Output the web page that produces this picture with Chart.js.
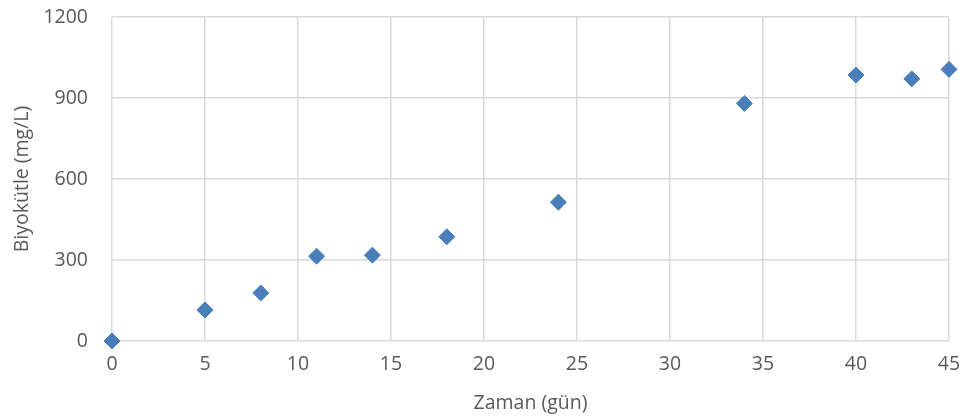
<!DOCTYPE html>
<html lang="tr">
<head>
    <meta charset="UTF-8">
    <title>Biyokütle</title>
    <script src="https://cdn.jsdelivr.net/npm/chart.js"></script>
    <style>
        body { margin: 0; background: #fff; }
        .chartBox { width: 968px; height: 417px; }
    </style>
</head>
<body>
    <div class="chartBox">
        <canvas id="biomass" width="968" height="417"></canvas>
    </div>

    <script>
    // okunan veriler
    const v_days = [0, 5, 8, 11, 14, 18, 24, 34, 40, 43, 45];
    const v_biomass = [0, 115, 178, 314, 318, 386, 514, 880, 985, 971, 1006];
    const v_xTitle = 'Zaman (gün)';
    const v_yTitle = 'Biyokütle (mg/L)';

    const v_points = v_days.map((d, i) => ({ x: d, y: v_biomass[i] }));

    const fontBase = { family: "'Open Sans', 'Liberation Sans', sans-serif", size: 19.5 };
    const gridColor = '#d9d9d9';
    const textColor = '#595959';

    const ctx = document.getElementById('biomass');

    new Chart(ctx, {
        type: 'scatter',
        data: {
            datasets: [{
                label: 'Biyokütle',
                data: v_points,
                clip: false,
                pointStyle: 'rectRot',
                pointRadius: 8,
                pointBackgroundColor: '#4a7ebb',
                pointBorderColor: '#4a7ebb',
                pointBorderWidth: 1
            }]
        },
        options: {
            responsive: false,
            animation: false,
            layout: { autoPadding: false, padding: { top: 17, right: 19, left: 0, bottom: 0 } },
            plugins: {
                legend: { display: false },
                tooltip: { enabled: false }
            },
            scales: {
                x: {
                    type: 'linear',
                    min: 0,
                    max: 45,
                    afterFit: (s) => { s.height = 76; s.paddingLeft = 0; s.paddingRight = 0; },
                    border: { display: false },
                    grid: { color: gridColor, lineWidth: 1.5, drawTicks: false },
                    ticks: { stepSize: 5, padding: 12, color: textColor, font: fontBase },
                    title: { display: true, text: v_xTitle, color: textColor, font: fontBase, padding: { top: 0, bottom: 2 } }
                },
                y: {
                    min: 0,
                    max: 1200,
                    afterFit: (s) => { s.width = 112; s.paddingTop = 0; s.paddingBottom = 0; },
                    border: { display: false },
                    grid: { color: gridColor, lineWidth: 1.5, drawTicks: false },
                    ticks: { stepSize: 300, padding: 24, color: textColor, font: fontBase, callback: (v) => String(v) },
                    title: { display: true, text: v_yTitle, color: textColor, font: fontBase, padding: { top: 11, bottom: 0 } }
                }
            }
        }
    });
    </script>
</body>
</html>
